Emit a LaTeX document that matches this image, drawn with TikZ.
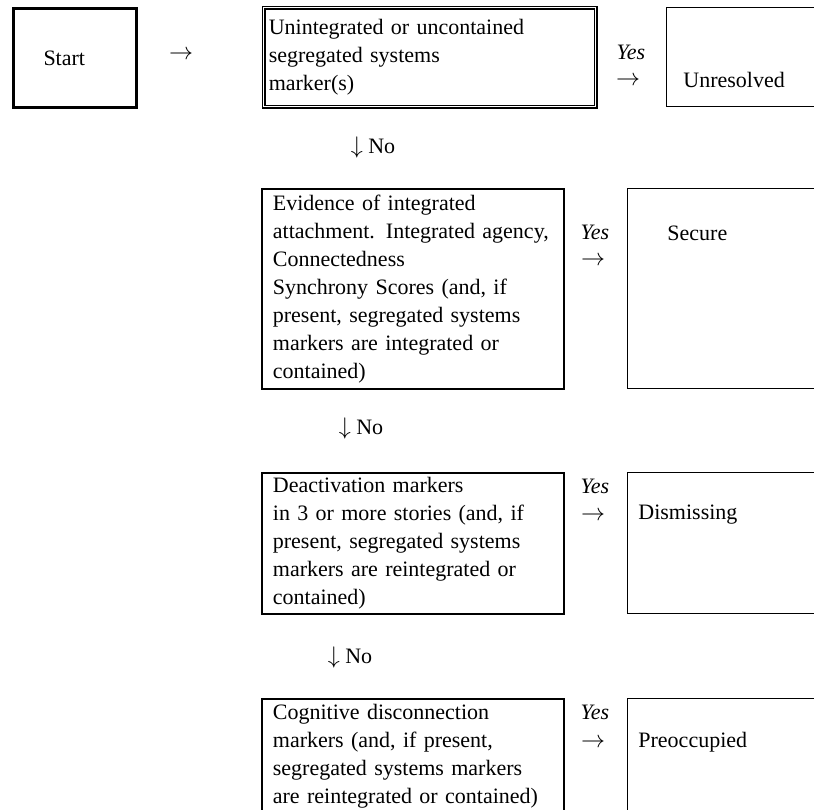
\documentclass[tikz,border=0pt]{standalone}
\usepackage{fontspec}
\setmainfont{Liberation Serif}

\begin{document}
\begin{tikzpicture}
[x=0.5pt,y=-0.5pt,
every node/.style={font=\fontsize{11}{14}\selectfont,inner sep=0pt},
query/.style={draw,line width=0.9pt,anchor=north west,align=left,text width=140pt,inner xsep=5.5pt,minimum height=#1},
result/.style={draw,line width=0.6pt,anchor=north west,minimum width=100pt,minimum height=#1},
yes/.style={font=\fontsize{11}{14}\selectfont\itshape},
sign/.style={font=\fontsize{12.5}{14}\selectfont}]

\useasboundingbox (0,0) rectangle (814,809);
\clip (0,0) rectangle (814,809);

\node[draw,line width=1.5pt,anchor=north west,minimum height=49.5pt,text width=31.5pt,inner xsep=15pt,align=left] (start) at (12,7) {Start};
\node[sign] (arr0) at (181,55) {$\rightarrow$};

\node[query=49.5pt,text width=161pt,inner xsep=2.5pt,line width=0.75pt,double,double distance=0.45pt] (q1) at (263,7) {Unintegrated or uncontained\\segregated systems\\marker(s)};
\node[yes] (y1) at (631,52) {Yes};
\node[sign] (a1) at (628,81) {$\rightarrow$};
\node[result=49.5pt] (r1) at (666,7) {};
\node[anchor=west] (t1) at (683,80) {Unresolved};
\node (n1) at (373,147) {{\fontsize{12.5}{14}\selectfont$\downarrow$} No};

\node[query=100pt] (q2) at (261,188) {Evidence of integrated\\attachment. Integrated agency,\\Connectedness\\Synchrony Scores (and, if\\present, segregated systems\\markers are integrated or\\contained)};
\node[yes] (y2) at (595,232) {Yes};
\node[sign] (a2) at (593,261) {$\rightarrow$};
\node[result=100pt] (r2) at (627,188) {};
\node[anchor=west] (t2) at (667,233) {Secure};
\node (n2) at (361,428) {{\fontsize{12.5}{14}\selectfont$\downarrow$} No};

\node[query=70.5pt] (q3) at (261,472) {Deactivation markers\\in 3 or more stories (and, if\\present, segregated systems\\markers are reintegrated or\\contained)};
\node[yes] (y3) at (595,486) {Yes};
\node[sign] (a3) at (593,516) {$\rightarrow$};
\node[result=70.5pt] (r3) at (627,472) {};
\node[anchor=west] (t3) at (638,515) {Dismissing};
\node (n3) at (350,657) {{\fontsize{12.5}{14}\selectfont$\downarrow$} No};

\node[query=57pt] (q4) at (261,698) {Cognitive disconnection\\markers (and, if present,\\segregated systems markers\\are reintegrated or contained)};
\node[yes] (y4) at (595,712) {Yes};
\node[sign] (a4) at (593,743) {$\rightarrow$};
\node[result=57pt] (r4) at (627,698) {};
\node[anchor=west] (t4) at (638,742) {Preoccupied};
\end{tikzpicture}
\end{document}
